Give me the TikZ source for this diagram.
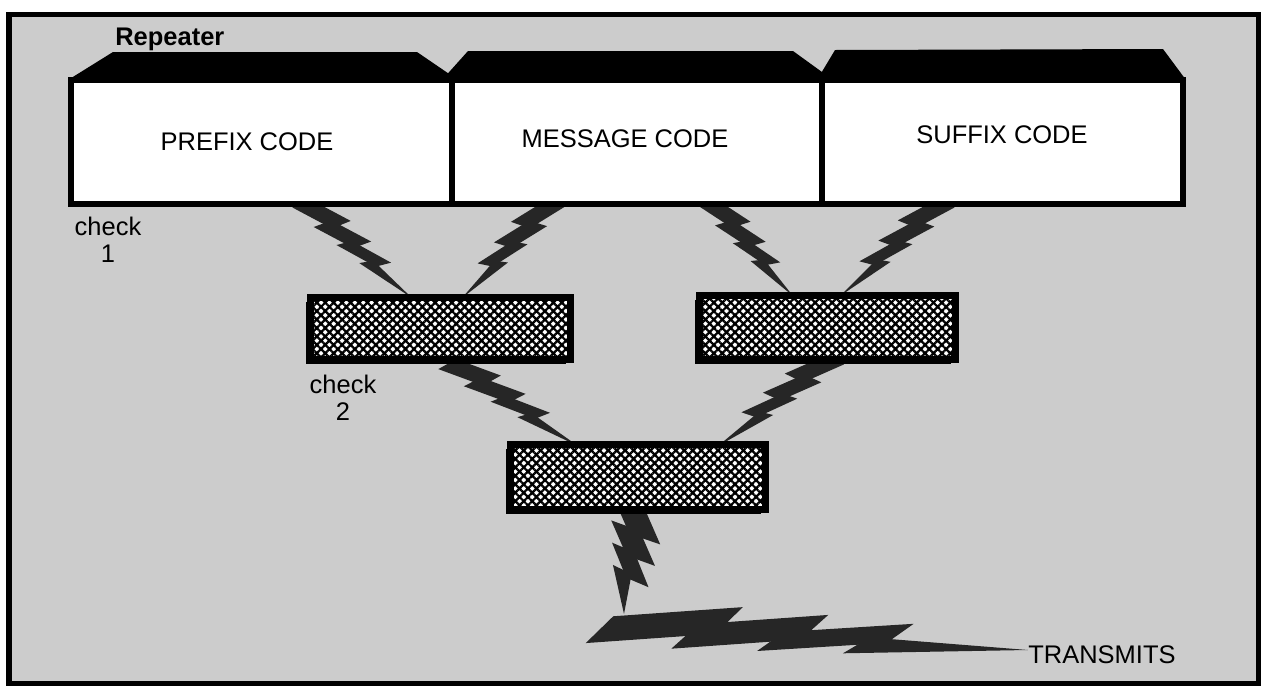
\documentclass[tikz,border=0pt]{standalone}
\usepackage{fontspec}
\setmainfont{Liberation Sans}
\usetikzlibrary{calc}
\usetikzlibrary{patterns.meta}
\usetikzlibrary{shadows}
\tikzstyle{codebox} = [draw,line width=3.2pt,fill=white,outer sep=0pt,inner sep=0pt]
\tikzstyle{mixbox} = [draw,line width=3.5pt,outer sep=0pt,
  drop shadow={shadow xshift=-2.6pt,shadow yshift=-2.6pt,fill=black,opacity=1},
  preaction={fill=white},pattern={Hatch[angle=45,distance=3.4pt,line width=1.3pt]}]
\tikzstyle{lbl} = [inner sep=0pt,font=\fontsize{14.5}{15.4}\selectfont]
\tikzstyle{boltfill} = [fill=black!85]
\tikzset{pics/bolt/.style={code={
  \fill[boltfill] (0.03,3) -- (0.33,11) -- (0.27,-2) -- (-0.03,-10) -- cycle;
  \fill[boltfill] (0.23,2) -- (0.53,10) -- (0.47,-2) -- (0.17,-10) -- cycle;
  \fill[boltfill] (0.43,1) -- (0.73,8.5) -- (0.67,-1) -- (0.37,-8.5) -- cycle;
  \fill[boltfill] (0.63,1) -- (1,0) -- (0.57,-7) -- cycle;
}}}
% lightning bolt from #2 to #3
\newcommand\zap[3][]{%
  \path let \p1=($(#3)-(#2)$) in
    \pgfextra{\pgfmathsetmacro\zapang{atan2(\y1,\x1)}%
      \pgfmathsetmacro\zaplen{veclen(\x1,\y1)}%
      \global\let\zapang\zapang\global\let\zaplen\zaplen};
  \pic[rotate=\zapang,x=\zaplen pt,y=0.8pt,#1] at (#2) {bolt};
}

\begin{document}
\begin{tikzpicture}[x=0.02cm,y=-0.02cm]
\useasboundingbox (0,0) rectangle (1262,687);
\draw[line width=3.4pt,fill=black!20] (9,14.5) rectangle (1258.5,683.5);

\coordinate (z1a) at (305,200);
\coordinate (z1b) at (412,298);
\coordinate (z2a) at (552,200);
\coordinate (z2b) at (462,298);
\coordinate (z3a) at (712,200);
\coordinate (z3b) at (793,296);
\coordinate (z4a) at (942,200);
\coordinate (z4b) at (840,296);
\coordinate (z5a) at (450,360);
\coordinate (z5b) at (578,446);
\coordinate (z6a) at (832,356);
\coordinate (z6b) at (718,446);
\coordinate (z7a) at (638,505);
\coordinate (z7b) at (624,614);
\coordinate (z8a) at (600,622);
\coordinate (z8b) at (1028,650);

\zap{z1a}{z1b}
\zap[yscale=-1]{z2a}{z2b}
\zap{z3a}{z3b}
\zap[yscale=-1]{z4a}{z4b}
\zap{z5a}{z5b}
\zap[yscale=-1]{z6a}{z6b}
\zap[y=1.4pt]{z7a}{z7b}
\zap[y=1.25pt]{z8a}{z8b}

\node[codebox,minimum width=7.62cm,minimum height=2.48cm] (prefix) at (261.5,142) {};
\node[codebox,minimum width=7.4cm,minimum height=2.48cm] (message) at (637,142) {};
\node[codebox,minimum width=7.22cm,minimum height=2.48cm] (suffix) at (1002.5,142) {};
\fill (68,80) -- (113,52) -- (417,52) -- (458,80) -- cycle;
\fill (442,80) -- (468,51) -- (793,51) -- (833,80) -- cycle;
\fill (817,80) -- (835,50) -- (1163,49) -- (1186,80) -- cycle;

\node[mixbox,minimum width=5.2cm,minimum height=1.24cm] (mixa) at (440.5,328.5) {};
\node[mixbox,minimum width=5.12cm,minimum height=1.28cm] (mixb) at (827.5,327.5) {};
\node[mixbox,minimum width=5.1cm,minimum height=1.3cm] (mixc) at (638,477) {};

\node[lbl,font=\bfseries\fontsize{14.5}{15.4}\selectfont,anchor=base west] (rep) at (115,45) {Repeater};
\node[lbl,anchor=base] (ptxt) at (247,150) {PREFIX CODE};
\node[lbl,anchor=base] (mtxt) at (625,147) {MESSAGE CODE};
\node[lbl,anchor=base] (stxt) at (1002,143) {SUFFIX CODE};
\node[lbl,align=center] (chk1) at (108,240) {check\\1};
\node[lbl,align=center] (chk2) at (343,398) {check\\2};
\node[lbl,anchor=base west] (tx) at (1028,663) {TRANSMITS};
\end{tikzpicture}
\end{document}
